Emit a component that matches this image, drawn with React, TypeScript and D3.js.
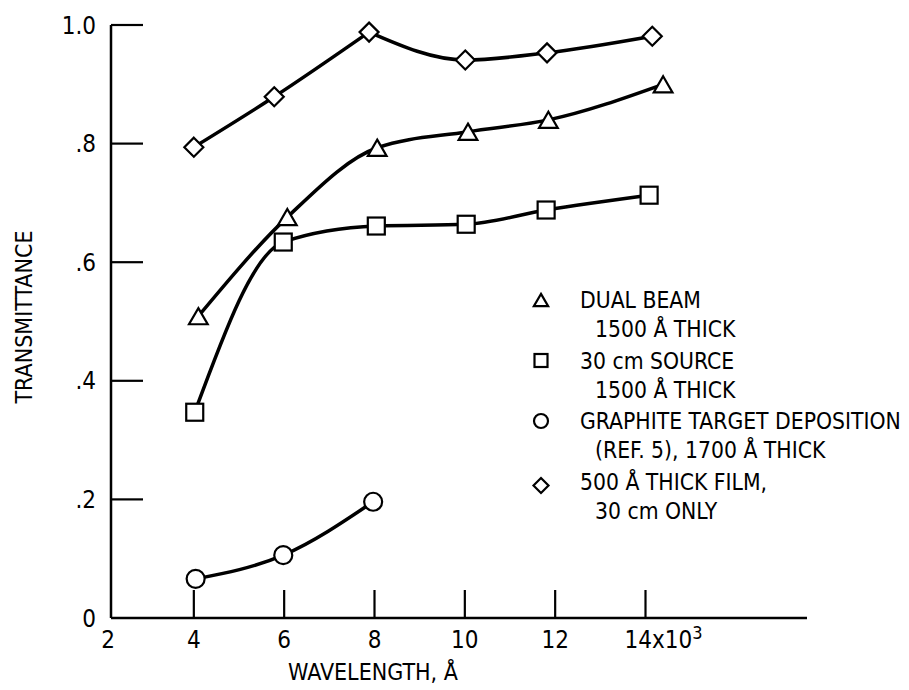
import React from "react";
import * as d3 from "d3";

type Pt = [number, number];

const dualBeam: Pt[] = [[4.1, 0.509], [6.07, 0.676], [8.06, 0.793], [10.07, 0.82], [11.85, 0.84], [14.39, 0.9]];
const source30: Pt[] = [[4.02, 0.347], [5.98, 0.634], [8.04, 0.661], [10.03, 0.664], [11.8, 0.688], [14.08, 0.713]];
const graphite: Pt[] = [[4.04, 0.066], [5.98, 0.106], [7.97, 0.196]];
const film500: Pt[] = [[4.0, 0.794], [5.78, 0.879], [7.88, 0.988], [10.01, 0.941], [11.82, 0.953], [14.15, 0.981]];

const xTicks = [4, 6, 8, 10, 12, 14];
const xTickLabels = ["4", "6", "8", "10", "12", "14x10"];
const yTicks = [0, 0.2, 0.4, 0.6, 0.8, 1.0];
const yTickLabels = ["0", ".2", ".4", ".6", ".8", "1.0"];

const legendEntries = [
  { shape: "triangle", lines: ["DUAL BEAM", "1500 Å THICK"] },
  { shape: "square", lines: ["30 cm SOURCE", "1500 Å THICK"] },
  { shape: "circle", lines: ["GRAPHITE TARGET DEPOSITION", "(REF. 5), 1700 Å THICK"] },
  { shape: "diamond", lines: ["500 Å THICK FILM,", "30 cm ONLY"] },
];

const FONT = "'DejaVu Sans Condensed', 'Liberation Sans Narrow', 'Roboto Condensed', sans-serif";

function Marker({ shape, cx, cy, s }: { shape: string; cx: number; cy: number; s: number }) {
  const common = { fill: "#fff", stroke: "#000", strokeWidth: 2.2 };
  if (shape === "triangle") {
    const w = s * 1.1, h = s * 0.95;
    return <path d={`M${cx},${cy - h / 2}L${cx + w / 2},${cy + h / 2}L${cx - w / 2},${cy + h / 2}Z`} {...common} strokeLinejoin="miter" />;
  }
  if (shape === "square") {
    return <rect x={cx - s / 2} y={cy - s / 2} width={s} height={s} {...common} />;
  }
  if (shape === "circle") {
    return <circle cx={cx} cy={cy} r={s / 2 + 0.5} {...common} />;
  }
  const r = s / 2 + 1;
  return <path d={`M${cx},${cy - r}L${cx + r},${cy}L${cx},${cy + r}L${cx - r},${cy}Z`} {...common} />;
}

export default function App() {
  const W = 909, H = 690;
  const x = d3.scaleLinear().domain([2, 14]).range([103.5, 645.5]);
  const y = d3.scaleLinear().domain([0, 1]).range([618, 25]);
  const axisX = 111;
  const axisRight = 807;

  const mono = d3.line<Pt>().x(d => x(d[0])).y(d => y(d[1])).curve(d3.curveMonotoneX);

  // film curve: rising part and the part after the peak drawn as two smooth pieces
  const filmPath = (mono(film500.slice(0, 3)) || "") + (mono(film500.slice(2)) || "");

  const series = [
    { data: dualBeam, shape: "triangle", d: mono(dualBeam) || "" },
    { data: source30, shape: "square", d: mono(source30) || "" },
    { data: graphite, shape: "circle", d: mono(graphite) || "" },
    { data: film500, shape: "diamond", d: filmPath },
  ];

  const legendX = 541;
  const legendTextX = 580;
  const legendIndentX = 595;
  const legendY0 = 300;
  const entryGap = 60.5;
  const lineGap = 29;

  return (
    <svg width={W} height={H} viewBox={`0 0 ${W} ${H}`} style={{ position: "absolute", left: 0, top: 0, background: "#fff" }} fontFamily={FONT}>
      {/* axes */}
      <line x1={axisX} y1={y(1)} x2={axisX} y2={y(0)} stroke="#000" strokeWidth={2.5} />
      <line x1={axisX} y1={y(0)} x2={axisRight} y2={y(0)} stroke="#000" strokeWidth={2.5} />
      {yTicks.map((t, i) => (
        <g key={"y" + i}>
          {t > 0 && <line x1={axisX} x2={axisX + 32} y1={y(t)} y2={y(t)} stroke="#000" strokeWidth={2.2} />}
          <text x={96} y={y(t)} dy="0.36em" textAnchor="end" fontSize={24}>{yTickLabels[i]}</text>
        </g>
      ))}
      {xTicks.map((t, i) => (
        <g key={"x" + i}>
          <line x1={x(t)} x2={x(t)} y1={y(0)} y2={y(0) - 28} stroke="#000" strokeWidth={2.2} />
          {t === 14 ? (
            <text x={x(t) - 21} y={648} fontSize={24}>
              {xTickLabels[i]}
              <tspan dy={-9} fontSize={18}>3</tspan>
            </text>
          ) : (
            <text x={x(t)} y={648} textAnchor="middle" fontSize={24}>{xTickLabels[i]}</text>
          )}
        </g>
      ))}
      <text x={108} y={648} textAnchor="middle" fontSize={24}>2</text>
      <text x={288} y={680} fontSize={23}>WAVELENGTH,  Å</text>
      <text transform={`translate(32,317) rotate(-90)`} textAnchor="middle" fontSize={23}>TRANSMITTANCE</text>

      {/* series */}
      {series.map((s, i) => (
        <g key={"s" + i}>
          <path d={s.d} fill="none" stroke="#000" strokeWidth={3.5} />
          {s.data.map((d, j) => (
            <Marker key={j} shape={s.shape} cx={x(d[0])} cy={y(d[1])} s={17} />
          ))}
        </g>
      ))}

      {/* legend */}
      {legendEntries.map((e, i) => {
        const cy = legendY0 + i * entryGap;
        return (
          <g key={"l" + i}>
            <Marker shape={e.shape} cx={legendX} cy={cy + (e.shape === "diamond" ? 4 : 0)} s={13} />
            <text x={legendTextX} y={cy} dy="0.36em" fontSize={22.7}>{e.lines[0]}</text>
            <text x={legendIndentX} y={cy + lineGap} dy="0.36em" fontSize={22.7}>{e.lines[1]}</text>
          </g>
        );
      })}
    </svg>
  );
}
